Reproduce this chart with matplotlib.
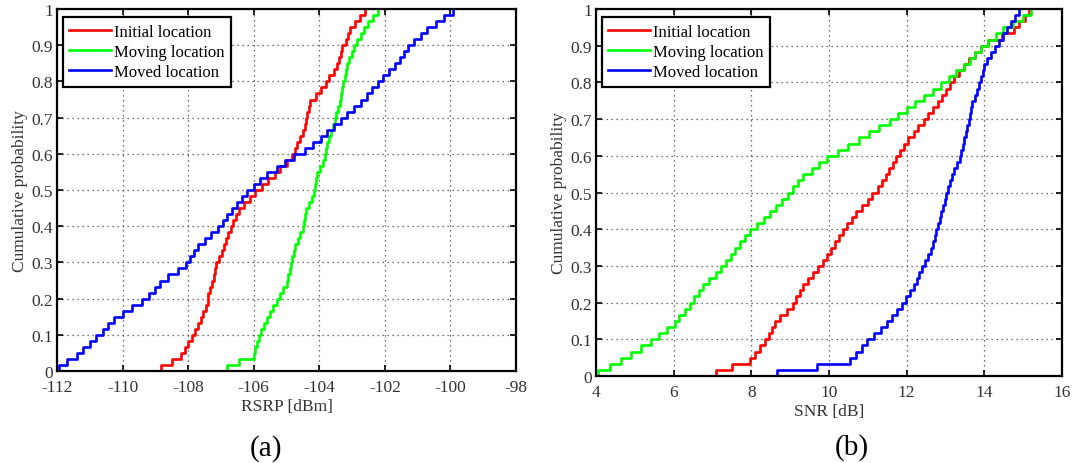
import numpy as np
import matplotlib
matplotlib.use("Agg")
import matplotlib.pyplot as plt

plt.rcParams['font.family'] = ['Liberation Serif', 'DejaVu Serif']
plt.rcParams['axes.unicode_minus'] = False

series_names = ["Initial location", "Moving location", "Moved location"]
series_colors = ["#ff0000", "#00ff00", "#0000ff"]

# sorted samples (60 per curve)
rsrp_initial = [-108.82, -108.5, -108.22, -108.1, -108.0, -107.87, -107.8, -107.7, -107.6, -107.55,
                -107.45, -107.4, -107.38, -107.32, -107.28, -107.22, -107.18, -107.15, -107.05, -106.98,
                -106.9, -106.85, -106.78, -106.7, -106.62, -106.55, -106.45, -106.3, -106.1, -105.95,
                -105.75, -105.55, -105.35, -105.2, -105.0, -104.82, -104.75, -104.68, -104.6, -104.5,
                -104.45, -104.4, -104.36, -104.32, -104.28, -104.1, -103.95, -103.8, -103.7, -103.55,
                -103.45, -103.4, -103.35, -103.3, -103.2, -103.12, -103.05, -102.9, -102.75, -102.6]
rsrp_moving = [-106.8, -106.45, -106.0, -105.95, -105.9, -105.85, -105.78, -105.7, -105.6, -105.5,
               -105.4, -105.3, -105.2, -105.1, -105.0, -104.95, -104.9, -104.85, -104.82, -104.78,
               -104.75, -104.65, -104.58, -104.5, -104.47, -104.43, -104.4, -104.3, -104.22, -104.16,
               -104.12, -104.09, -104.06, -103.98, -103.9, -103.84, -103.8, -103.75, -103.7, -103.65,
               -103.58, -103.53, -103.48, -103.42, -103.37, -103.33, -103.3, -103.27, -103.22, -103.18,
               -103.14, -103.08, -103.0, -102.94, -102.85, -102.73, -102.63, -102.5, -102.35, -102.2]
rsrp_moved = [-111.95, -111.7, -111.4, -111.2, -111.0, -110.8, -110.6, -110.45, -110.27, -110.0,
              -109.7, -109.4, -109.2, -109.0, -108.85, -108.6, -108.3, -108.07, -107.95, -107.82,
              -107.7, -107.5, -107.3, -107.1, -106.95, -106.8, -106.65, -106.5, -106.35, -106.2,
              -106.0, -105.8, -105.6, -105.3, -105.05, -104.78, -104.45, -104.2, -103.96, -103.75,
              -103.55, -103.35, -103.15, -102.95, -102.73, -102.55, -102.38, -102.2, -102.05, -101.88,
              -101.7, -101.55, -101.42, -101.3, -101.1, -100.9, -100.7, -100.45, -100.2, -99.93]

snr_initial = [7.1, 7.5, 7.96, 8.1, 8.22, 8.35, 8.45, 8.52, 8.6, 8.75,
               8.92, 9.07, 9.15, 9.25, 9.33, 9.45, 9.6, 9.72, 9.85, 9.95,
               10.05, 10.15, 10.25, 10.35, 10.47, 10.6, 10.7, 10.85, 11.0, 11.11,
               11.25, 11.37, 11.47, 11.55, 11.65, 11.73, 11.83, 11.94, 12.04, 12.18,
               12.3, 12.44, 12.55, 12.68, 12.8, 12.9, 13.0, 13.11, 13.22, 13.35,
               13.47, 13.6, 13.75, 13.91, 14.1, 14.45, 14.76, 14.9, 15.05, 15.16]
snr_moving = [4.04, 4.35, 4.65, 4.9, 5.15, 5.42, 5.62, 5.82, 6.03, 6.15,
              6.28, 6.41, 6.52, 6.64, 6.76, 6.92, 7.08, 7.23, 7.35, 7.47,
              7.58, 7.7, 7.83, 7.96, 8.15, 8.32, 8.48, 8.63, 8.8, 8.95,
              9.08, 9.2, 9.33, 9.55, 9.75, 9.96, 10.22, 10.5, 10.76, 11.03,
              11.3, 11.56, 11.78, 12.0, 12.22, 12.45, 12.67, 12.89, 13.08, 13.28,
              13.47, 13.62, 13.77, 13.91, 14.1, 14.3, 14.49, 14.75, 15.0, 15.2]
snr_moved = [8.65, 9.7, 10.53, 10.7, 10.85, 10.98, 11.15, 11.33, 11.5, 11.62,
             11.75, 11.87, 11.98, 12.08, 12.18, 12.26, 12.33, 12.4, 12.48, 12.55,
             12.62, 12.67, 12.72, 12.76, 12.8, 12.85, 12.89, 12.94, 12.98, 13.02,
             13.06, 13.11, 13.16, 13.23, 13.3, 13.38, 13.41, 13.44, 13.47, 13.52,
             13.56, 13.6, 13.63, 13.66, 13.69, 13.75, 13.81, 13.87, 13.92, 13.96,
             14.0, 14.08, 14.17, 14.27, 14.37, 14.47, 14.58, 14.68, 14.78, 14.89]

rsrp_ticks = list(range(-112, -97, 2))
snr_ticks = list(range(4, 17, 2))
prob_ticks = [i / 10 for i in range(11)]
prob_labels = ["0", "0.1", "0.2", "0.3", "0.4", "0.5", "0.6", "0.7", "0.8", "0.9", "1"]


def draw_cdf(ax, samples, color, label):
    x = np.sort(np.array(samples))
    n = len(x)
    xs = np.r_[x[0], x]
    ps = np.r_[0, np.arange(1, n + 1) / n]
    ax.step(xs, ps, where='post', color=color, lw=1.9, label=label)


def style_axes(ax, xticks, xlabel):
    ax.set_xlim(xticks[0], xticks[-1])
    ax.set_ylim(0, 1)
    ax.set_xticks(xticks)
    ax.set_yticks(prob_ticks)
    ax.set_yticklabels(prob_labels)
    ax.grid(True, linestyle=(0, (1, 3)), color='#444444', lw=0.9)
    ax.tick_params(direction='in', top=True, right=True, length=4, width=1.2,
                   labelsize=12.5, labelcolor='#333333', pad=3)
    ax.tick_params(axis='x', pad=6)
    for s in ax.spines.values():
        s.set_linewidth(1.6)
    ax.set_xlabel(xlabel, fontsize=12.5, color='#333333', labelpad=2)
    ax.set_ylabel("Cumulative probability", fontsize=12.5, color='#333333', labelpad=2)
    leg = ax.legend(loc='upper left', bbox_to_anchor=(0.012, 0.978), fontsize=12,
                    handlelength=2.5, handletextpad=0.2, labelspacing=0.25,
                    borderpad=0.4, borderaxespad=0, fancybox=False, framealpha=1)
    leg.get_frame().set_edgecolor('black')
    leg.get_frame().set_linewidth(1.6)


fig = plt.figure(figsize=(10.76, 4.64), dpi=100)
ax1 = fig.add_axes([57 / 1076, 92 / 464, 459 / 1076, 362 / 464])
ax2 = fig.add_axes([596 / 1076, 87 / 464, 466 / 1076, 367 / 464])

for data, c, name in zip([rsrp_initial, rsrp_moving, rsrp_moved], series_colors, series_names):
    draw_cdf(ax1, data, c, name)
for data, c, name in zip([snr_initial, snr_moving, snr_moved], series_colors, series_names):
    draw_cdf(ax2, data, c, name)

style_axes(ax1, rsrp_ticks, "RSRP [dBm]")
style_axes(ax2, snr_ticks, "SNR [dB]")

fig.text(266 / 1076, 1 - 449 / 464, "(a)", fontsize=21, ha='center', va='center')
fig.text(852 / 1076, 1 - 448 / 464, "(b)", fontsize=21, ha='center', va='center')

fig.savefig("out.png", dpi=100)
